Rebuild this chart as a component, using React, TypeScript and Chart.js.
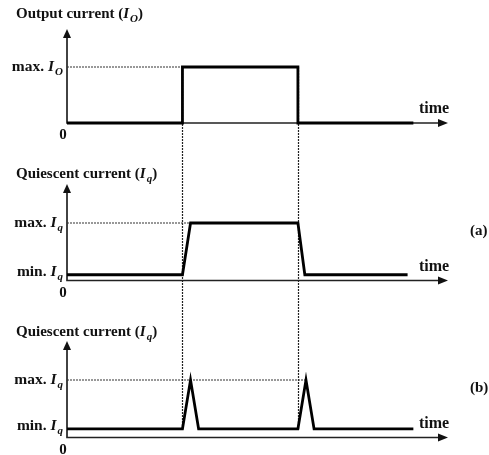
import React, { useEffect, useRef } from "react";
import { Chart, registerables } from "chart.js";
Chart.register(...registerables);

const W = 489;
const H = 455;

// ---- data (time in arbitrary units, current normalised: 1 = max) ----
const timeAxisEnd = 33;
const risingEdge = 10;
const fallingEdge = 20;

const outT = [0, 10, 10, 20, 20, 30];
const outI = [0, 0, 1, 1, 0, 0];

const qaT = [0, 10, 10.7, 20, 20.6, 29.5];
const qaI = [0.1, 0.1, 1, 1, 0.1, 0.1];

const qbT = [0, 10, 10.7, 11.4, 20, 20.7, 21.4, 30];
const qbI = [0.15, 0.15, 1, 0.15, 0.15, 1, 0.15, 0.15];

const panelTitles = ["Output current", "Quiescent current", "Quiescent current"];
const panelSymbols = ["O", "q", "q"];
const panelTags = ["", "(a)", "(b)"];
const maxLabel = "max.";
const minLabel = "min.";
const zeroLabel = "0";
const timeLabel = "time";
const minLevels = [null, 0.1, 0.15];
const maxGuideEnd = [10, 10.7, 20.7];
const yArrowTop = 1.68;

// ---- layout (pixels) ----
const panels = [
  { zero: 123, unit: 56, titleY: 18 },
  { zero: 280.5, unit: 57.5, titleY: 178 },
  { zero: 437.5, unit: 57.5, titleY: 336 },
];
const FONT = '"Liberation Serif", "Times New Roman", serif';

type Part = { t: string; it?: boolean; sub?: boolean };

function drawRich(ctx: CanvasRenderingContext2D, parts: Part[], x: number, y: number, align: "left" | "right", size: number, bold = true) {
  const fontFor = (p: Part) =>
    `${p.it ? "italic " : ""}${bold ? "bold " : ""}${p.sub ? Math.round(size * 0.72) : size}px ${FONT}`;
  let total = 0;
  const widths = parts.map((p) => {
    ctx.font = fontFor(p);
    const w = ctx.measureText(p.t).width + (p.it && !p.sub ? 1 : 0);
    total += w;
    return w;
  });
  let cx = align === "right" ? x - total : x;
  ctx.textAlign = "left";
  ctx.textBaseline = "alphabetic";
  parts.forEach((p, i) => {
    ctx.font = fontFor(p);
    ctx.fillText(p.t, cx, y + (p.sub ? 4 : 0));
    cx += widths[i];
  });
}

const pts = (xs: number[], ys: number[]) => xs.map((x, i) => ({ x, y: ys[i] }));

export default function App() {
  const ref = useRef<HTMLCanvasElement>(null);
  useEffect(() => {
    if (!ref.current) return;
    const yScale = (p: { zero: number; unit: number }) => ({
      type: "linear" as const,
      display: false,
      min: (p.zero - H) / p.unit,
      max: p.zero / p.unit,
    });

    const diagram = {
      id: "diagram",
      beforeDatasetsDraw(chart: any) {
        const ctx: CanvasRenderingContext2D = chart.ctx;
        const xs = chart.scales.x;
        const ys = [chart.scales.y1, chart.scales.y2, chart.scales.y3];
        ctx.save();
        // vertical dotted guides across panels
        ctx.strokeStyle = "#222";
        ctx.lineWidth = 1.2;
        ctx.setLineDash([2, 1]);
        [risingEdge, fallingEdge].forEach((t) => {
          const px = Math.round(xs.getPixelForValue(t)) + 0.5;
          ctx.beginPath();
          ctx.moveTo(px, ys[0].getPixelForValue(1));
          ctx.lineTo(px, ys[2].getPixelForValue(qbI[0]));
          ctx.stroke();
        });
        ctx.setLineDash([]);
        // axes + arrows
        ys.forEach((s) => {
          const x0 = xs.getPixelForValue(0);
          const y0 = s.getPixelForValue(0);
          const yTop = s.getPixelForValue(yArrowTop);
          const xEnd = xs.getPixelForValue(timeAxisEnd);
          ctx.strokeStyle = "#222";
          ctx.fillStyle = "#111";
          ctx.lineWidth = 1.7;
          ctx.beginPath();
          ctx.moveTo(x0, yTop + 6);
          ctx.lineTo(x0, y0);
          ctx.lineTo(xEnd - 6, y0);
          ctx.stroke();
          ctx.beginPath();
          ctx.moveTo(x0, yTop);
          ctx.lineTo(x0 - 4, yTop + 9);
          ctx.lineTo(x0 + 4, yTop + 9);
          ctx.closePath();
          ctx.fill();
          ctx.beginPath();
          ctx.moveTo(xEnd, y0);
          ctx.lineTo(xEnd - 10, y0 - 4);
          ctx.lineTo(xEnd - 10, y0 + 4);
          ctx.closePath();
          ctx.fill();
        });
        ctx.restore();
      },
      afterDraw(chart: any) {
        const ctx: CanvasRenderingContext2D = chart.ctx;
        const xs = chart.scales.x;
        const ys = [chart.scales.y1, chart.scales.y2, chart.scales.y3];
        ctx.save();
        ctx.fillStyle = "#111";
        ys.forEach((s, i) => {
          const sym = panelSymbols[i];
          drawRich(ctx, [{ t: panelTitles[i] + " (" }, { t: "I", it: true }, { t: sym, it: true, sub: true }, { t: ")" }], 16, panels[i].titleY, "left", 15);
          const yMax = s.getPixelForValue(1);
          drawRich(ctx, [{ t: maxLabel + " " }, { t: "I", it: true }, { t: sym, it: true, sub: true }], 63, yMax + 4, "right", 15.5);
          const lv = minLevels[i];
          if (lv !== null) {
            const yMin = s.getPixelForValue(lv);
            drawRich(ctx, [{ t: minLabel + " " }, { t: "I", it: true }, { t: sym, it: true, sub: true }], 63, yMin + 1, "right", 15.5);
          }
          const y0 = s.getPixelForValue(0);
          ctx.font = `bold 15px ${FONT}`;
          ctx.textAlign = "center";
          ctx.textBaseline = "alphabetic";
          ctx.fillText(zeroLabel, xs.getPixelForValue(0) - 4, y0 + 16);
          ctx.font = `bold 16px ${FONT}`;
          ctx.fillText(timeLabel, 434, y0 - 10);
          if (panelTags[i]) {
            ctx.textAlign = "left";
            ctx.font = `bold 15px ${FONT}`;
            ctx.fillText(panelTags[i], 470, y0 - 46);
          }
        });
        ctx.restore();
      },
    };

    const signal = (xs: number[], ys: number[], axis: string) => ({
      data: pts(xs, ys),
      yAxisID: axis,
      borderColor: "#000",
      borderWidth: 2.8,
      pointRadius: 0,
      tension: 0,
      fill: false,
      borderJoinStyle: "miter" as const,
    });
    const guide = (end: number, axis: string) => ({
      data: [{ x: 0, y: 1 }, { x: end, y: 1 }],
      yAxisID: axis,
      borderColor: "#333",
      borderWidth: 1.1,
      borderDash: [2, 1],
      pointRadius: 0,
      fill: false,
    });

    const chart = new Chart(ref.current, {
      type: "line",
      data: {
        datasets: [
          signal(outT, outI, "y1"),
          signal(qaT, qaI, "y2"),
          signal(qbT, qbI, "y3"),
          guide(maxGuideEnd[0], "y1"),
          guide(maxGuideEnd[1], "y2"),
          guide(maxGuideEnd[2], "y3"),
        ] as any,
      },
      options: {
        animation: false,
        responsive: false,
        maintainAspectRatio: false,
        layout: { padding: { left: 67, right: 41, top: 0, bottom: 0 } },
        plugins: { legend: { display: false }, tooltip: { enabled: false } },
        scales: {
          x: { type: "linear", display: false, min: 0, max: timeAxisEnd },
          y1: yScale(panels[0]),
          y2: yScale(panels[1]),
          y3: yScale(panels[2]),
        } as any,
      },
      plugins: [diagram],
    });
    return () => chart.destroy();
  }, []);

  return (
    <div style={{ position: "fixed", left: 0, top: 0, width: W, height: H, background: "#fff" }}>
      <canvas ref={ref} width={W} height={H} style={{ width: W, height: H, display: "block" }} />
    </div>
  );
}
